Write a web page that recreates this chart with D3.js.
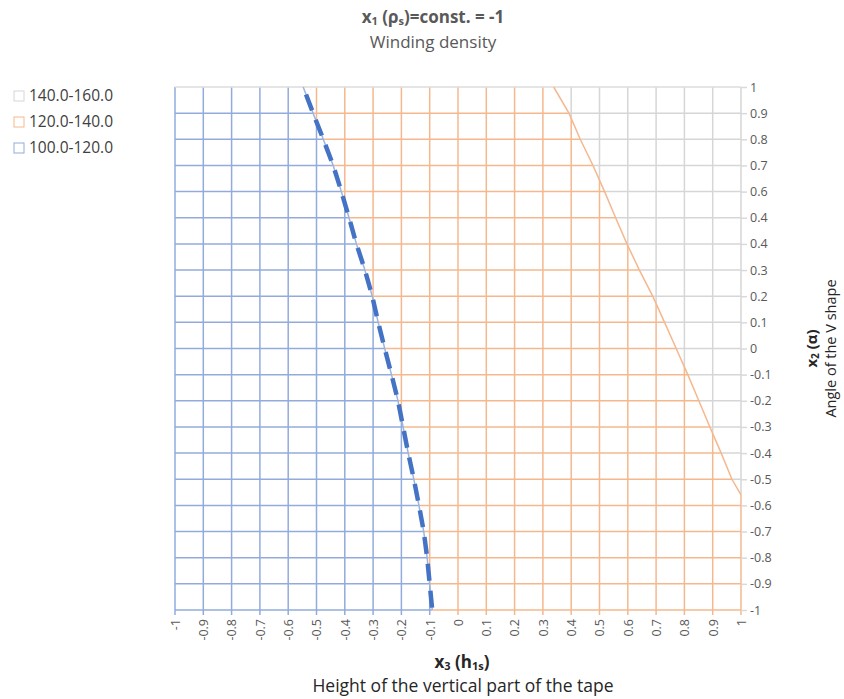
<!DOCTYPE html>
<html lang="en">
<head>
    <meta charset="UTF-8">
    <title>Winding density contour</title>
    <script src="https://d3js.org/d3.v7.min.js"></script>
    <style>
        body { margin: 0; background: #fff; }
        svg text { font-family: "Open Sans", sans-serif; }
        .grid line { stroke-width: 1.5px; }
    </style>
</head>
<body>
    <script>
        // axis ticks
        const x3Ticks = [-1, -0.9, -0.8, -0.7, -0.6, -0.5, -0.4, -0.3, -0.2, -0.1, 0, 0.1, 0.2, 0.3, 0.4, 0.5, 0.6, 0.7, 0.8, 0.9, 1];
        const x3Labels = ["-1", "-0.9", "-0.8", "-0.7", "-0.6", "-0.5", "-0.4", "-0.3", "-0.2", "-0.1", "0", "0.1", "0.2", "0.3", "0.4", "0.5", "0.6", "0.7", "0.8", "0.9", "1"];
        const x2Ticks = [1, 0.9, 0.8, 0.7, 0.6, 0.5, 0.4, 0.3, 0.2, 0.1, 0, -0.1, -0.2, -0.3, -0.4, -0.5, -0.6, -0.7, -0.8, -0.9, -1];
        const x2Labels = ["1", "0.9", "0.8", "0.7", "0.6", "0.4", "0.4", "0.3", "0.2", "0.1", "0", "-0.1", "-0.2", "-0.3", "-0.4", "-0.5", "-0.6", "-0.7", "-0.8", "-0.9", "-1"];

        // legend bands
        const bandNames = ["140.0-160.0", "120.0-140.0", "100.0-120.0"];
        const bandColors = ["#d6d6d6", "#f5b88e", "#92abdc"];

        // contour 120 (blue / orange boundary)
        const c120X2 = [1, 0.9, 0.8, 0.7, 0.6, 0.5, 0.4, 0.3, 0.2, 0.1, 0, -0.1, -0.2, -0.3, -0.4, -0.5, -0.6, -0.7, -0.8, -0.9, -1];
        const c120X3 = [-0.547, -0.512, -0.476, -0.441, -0.412, -0.385, -0.359, -0.329, -0.303, -0.282, -0.259, -0.235, -0.212, -0.194, -0.176, -0.156, -0.138, -0.121, -0.109, -0.1, -0.091];

        // contour 140 (orange / grey boundary)
        const c140X2 = [1, 0.9, 0.8, 0.7, 0.6, 0.5, 0.4, 0.3, 0.2, 0.1, 0, -0.1, -0.2, -0.3, -0.4, -0.5, -0.56];
        const c140X3 = [0.338, 0.392, 0.432, 0.477, 0.518, 0.557, 0.597, 0.641, 0.688, 0.73, 0.771, 0.812, 0.851, 0.89, 0.93, 0.968, 1];

        const width = 844, height = 699;

        const svg = d3.select("body").append("svg")
            .attr("width", width)
            .attr("height", height);

        const x = d3.scaleLinear().domain([-1, 1]).range([175, 741]);
        const y = d3.scaleLinear().domain([-1, 1]).range([610, 87]);

        const p120 = c120X3.map((v, i) => [x(v), y(c120X2[i])]);
        const p140 = c140X3.map((v, i) => [x(v), y(c140X2[i])]);
        const pad = 8;
        const yTop = y(1) - pad, yBot = y(-1) + pad, xLft = x(-1) - pad, xRgt = x(1) + pad;

        // clip regions for each band
        const regions = {
            blue: [[xLft, yTop], [p120[0][0], yTop], ...p120, [p120[p120.length - 1][0], yBot], [xLft, yBot]],
            orange: [[p120[0][0], yTop], [p140[0][0], yTop], ...p140,
                     [xRgt, p140[p140.length - 1][1]], [xRgt, yBot], [p120[p120.length - 1][0], yBot], ...p120.slice().reverse()],
            grey: [[p140[0][0], yTop], [xRgt, yTop], [xRgt, p140[p140.length - 1][1]], ...p140.slice().reverse()]
        };
        const regionColor = { blue: bandColors[2], orange: bandColors[1], grey: bandColors[0] };

        const defs = svg.append("defs");
        Object.keys(regions).forEach(k => {
            defs.append("clipPath").attr("id", "clip-" + k)
                .append("polygon")
                .attr("points", regions[k].map(p => p.join(",")).join(" "));
        });

        Object.keys(regions).forEach(k => {
            const g = svg.append("g").attr("class", "grid")
                .attr("clip-path", `url(#clip-${k})`)
                .attr("stroke", regionColor[k]);

            g.selectAll("line.v").data(x3Ticks).join("line")
                .attr("class", "v")
                .attr("x1", d => x(d)).attr("x2", d => x(d))
                .attr("y1", y(1)).attr("y2", y(-1) + 5);

            g.selectAll("line.h").data(x2Ticks.slice(1)).join("line")
                .attr("class", "h")
                .attr("x1", x(-1)).attr("x2", x(1))
                .attr("y1", d => y(d)).attr("y2", d => y(d));
        });

        // top edge
        svg.append("line")
            .attr("x1", x(-1)).attr("x2", x(1))
            .attr("y1", y(1)).attr("y2", y(1))
            .attr("stroke", "#dcdcdc").attr("stroke-width", 1.5);

        // contour lines
        const line = d3.line();
        svg.append("path").datum(p140)
            .attr("d", line)
            .attr("fill", "none")
            .attr("stroke", "#f5b88e")
            .attr("stroke-width", 1.5);

        svg.append("path").datum(p120)
            .attr("d", line)
            .attr("fill", "none")
            .attr("stroke", "#9db4e0")
            .attr("stroke-width", 1.5);

        svg.append("path").datum(p120)
            .attr("d", line)
            .attr("fill", "none")
            .attr("stroke", "#4472c4")
            .attr("stroke-width", 4.5)
            .attr("stroke-dasharray", "17,10")
            .attr("stroke-dashoffset", 19);

        // right axis (x2)
        const yAxis = svg.append("g")
            .attr("transform", `translate(${x(1)},0)`)
            .call(d3.axisRight(y)
                .tickValues(x2Ticks)
                .tickFormat((d, i) => x2Labels[i])
                .tickSize(6)
                .tickSizeOuter(0)
                .tickPadding(3));
        yAxis.select(".domain").remove();
        yAxis.selectAll(".tick line").attr("stroke", "#d9d9d9").attr("stroke-width", 1.5);

        // bottom axis (x3), rotated labels
        const xAxis = svg.append("g")
            .attr("transform", `translate(0,${y(-1)})`)
            .call(d3.axisBottom(x)
                .tickValues(x3Ticks)
                .tickFormat((d, i) => x3Labels[i])
                .tickSize(0));
        xAxis.select(".domain").remove();
        xAxis.selectAll(".tick text")
            .attr("transform", "rotate(-90)")
            .attr("text-anchor", "end")
            .attr("x", -9)
            .attr("y", 0)
            .attr("dy", "0.35em");

        [xAxis, yAxis].forEach(a => a
            .attr("font-family", "Open Sans, sans-serif")
            .attr("font-size", 12.5)
            .selectAll(".tick text")
            .attr("font-size", 12.5)
            .attr("fill", "#595959"));

        // titles
        function subTitle(sel, parts, subSize) {
            parts.forEach(p => {
                const t = sel.append("tspan").text(p[0]);
                if (p[1]) t.attr("baseline-shift", "-20%").attr("font-size", subSize);
            });
        }

        const t1 = svg.append("text")
            .attr("x", 433).attr("y", 23)
            .attr("text-anchor", "middle")
            .attr("font-size", "17px").attr("font-weight", "bold")
            .attr("fill", "#595959");
        subTitle(t1, [["x"], ["1", true], [" (ρ"], ["s", true], [")=const. = -1"]], "11px");

        svg.append("text")
            .attr("x", 433).attr("y", 48)
            .attr("text-anchor", "middle")
            .attr("font-size", "17px")
            .attr("fill", "#595959")
            .text("Winding density");

        const t3 = svg.append("text")
            .attr("x", 462).attr("y", 668)
            .attr("text-anchor", "middle")
            .attr("font-size", "17px").attr("font-weight", "bold")
            .attr("fill", "#262626");
        subTitle(t3, [["x"], ["3", true], [" (h"], ["1s", true], [")"]], "11px");

        svg.append("text")
            .attr("x", 463).attr("y", 692)
            .attr("text-anchor", "middle")
            .attr("font-size", "17.5px")
            .attr("fill", "#262626")
            .text("Height of the vertical part of the tape");

        const t2 = svg.append("text")
            .attr("transform", `translate(817,${y(0)}) rotate(-90)`)
            .attr("text-anchor", "middle")
            .attr("font-size", "15px").attr("font-weight", "bold")
            .attr("fill", "#262626");
        subTitle(t2, [["x"], ["2", true], [" (α)"]], "10px");

        svg.append("text")
            .attr("transform", `translate(836,${y(0)}) rotate(-90)`)
            .attr("text-anchor", "middle")
            .attr("font-size", "14.5px")
            .attr("fill", "#262626")
            .text("Angle of the V shape");

        // legend
        const legend = svg.append("g").selectAll("g").data(bandNames).join("g")
            .attr("transform", (d, i) => `translate(14,${96 + i * 26})`);
        legend.append("rect")
            .attr("x", 0).attr("y", -5)
            .attr("width", 10).attr("height", 10)
            .attr("fill", "#fff")
            .attr("stroke", (d, i) => bandColors[i]);
        legend.append("text")
            .attr("x", 15).attr("dy", "0.35em")
            .attr("font-size", "15.5px")
            .attr("fill", "#404040")
            .text(d => d);
    </script>
</body>
</html>
